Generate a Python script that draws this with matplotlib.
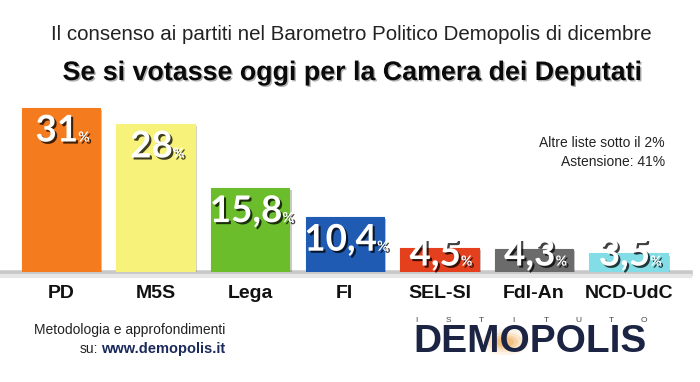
import matplotlib
matplotlib.use("Agg")
import matplotlib.pyplot as plt
import matplotlib.patheffects as pe
from matplotlib.patches import Circle

categories = ["PD", "M5S", "Lega", "FI", "SEL-SI", "FdI-An", "NCD-UdC"]
values = [31, 28, 15.8, 10.4, 4.5, 4.3, 3.5]
colors = ["#f57b1f", "#f7f27a", "#6cbd2b", "#1f5ab3", "#e5401d", "#6b6b6b", "#82dde6"]
title1 = "Il consenso ai partiti nel Barometro Politico Demopolis di dicembre"
title2 = "Se si votasse oggi per la Camera dei Deputati"
note1 = "Altre liste sotto il 2%"
note2 = "Astensione: 41%"

W, H = 700, 382
fig = plt.figure(figsize=(7, 3.82), dpi=100)
fig.patch.set_facecolor("white")

def fx(px):
    return px / W

def fy(py):
    return 1 - py / H

spacing = 94.6
c0 = 61
px_per_unit = 5.3
ax_bottom, ax_top = 272, 90
ax = fig.add_axes([0, fy(ax_bottom), 1, (ax_bottom - ax_top) / H])
ax.set_xlim(-c0 / spacing, (W - c0) / spacing)
ax.set_ylim(0, (ax_bottom - ax_top) / px_per_unit)
ax.axis("off")

# ground line
fig.add_artist(plt.Line2D([0, fx(690)], [fy(273), fy(273)], color="#c9c9c9", lw=4, zorder=0))
fig.add_artist(plt.Line2D([0, fx(690)], [fy(276), fy(276)], color="#e6e6e6", lw=3, zorder=0))

x = list(range(len(categories)))
bars = ax.bar(x, values, width=0.83, color=colors, edgecolor=colors, linewidth=0.8, zorder=2)
for b in bars:
    b.set_path_effects([pe.SimplePatchShadow(offset=(1.5, -1.5), alpha=0.25), pe.Normal()])

shadow = [pe.withSimplePatchShadow(offset=(1.5, -1.5), shadow_rgbFace="black", alpha=0.75)]
for i, v in enumerate(values):
    s = f"{v:g}".replace(".", ",")
    yv = max(v - 4.4, 3.2)
    t = ax.annotate(s, xy=(i, yv), xytext=(-3, 0), textcoords="offset points",
                    ha="center", va="center", fontsize=26.5, color="white",
                    family=["Lato", "DejaVu Sans"], fontweight="bold", zorder=5,
                    path_effects=shadow)
    ax.annotate("%", xy=(1.0, 0.12), xycoords=t, ha="left", va="bottom",
                fontsize=10, color="white", family=["Lato", "DejaVu Sans"],
                fontweight="bold", zorder=5, path_effects=shadow)
    fig.text(fx(c0 + spacing * i), fy(293), categories[i], ha="center", va="center",
             fontsize=14, fontweight="bold", color="#111111",
             family=["Liberation Sans", "DejaVu Sans"])

# titles
fig.text(fx(351), fy(35), title1, ha="center", va="center", fontsize=14.8,
         color="#222222", family=["Liberation Sans", "DejaVu Sans"])
fig.text(fx(351), fy(73), title2, ha="center", va="center", fontsize=19.3,
         fontweight="bold", color="#0a0a0a",
         family=["Liberation Sans", "DejaVu Sans"],
         path_effects=[pe.withSimplePatchShadow(offset=(1, -1), alpha=0.3)])

# notes
fig.text(fx(665), fy(143), note1, ha="right", va="center", fontsize=10,
         color="#222222", family=["Liberation Sans", "DejaVu Sans"])
fig.text(fx(665), fy(162), note2, ha="right", va="center", fontsize=10,
         color="#222222", family=["Liberation Sans", "DejaVu Sans"])

# footer
fig.text(fx(225), fy(330), "Metodologia e approfondimenti", ha="right", va="center",
         fontsize=10, color="#222222", family=["Liberation Sans", "DejaVu Sans"])
url = fig.text(fx(225), fy(349), "www.demopolis.it", ha="right", va="center",
               fontsize=10.5, fontweight="bold", color="#1b2a5c",
               family=["Liberation Sans", "DejaVu Sans"])
plt.annotate("su:", xy=(0, 0.5), xycoords=url, xytext=(-2, 0), textcoords="offset points",
             ha="right", va="center", fontsize=10, color="#222222",
             family=["Liberation Sans", "DejaVu Sans"], annotation_clip=False)

# logo
for r, a in [(24, 0.12), (18, 0.18), (13, 0.25), (9, 0.35)]:
    fig.add_artist(Circle((fx(505), fy(342)), r / W, transform=fig.transFigure,
                          color="#f0a040", alpha=a, lw=0, zorder=0))
fig.text(fx(530), fy(342), "DEMOPOLIS", ha="center", va="center", fontsize=28,
         fontweight="bold", color="#1c2444", family=["Liberation Sans", "DejaVu Sans"])
for k, ch in enumerate("ISTITUTO"):
    fig.text(fx(416 + k * 32.5), fy(321), ch, ha="center", va="center",
             fontsize=6, color="#444444", family=["Liberation Sans", "DejaVu Sans"])

fig.savefig("out.png", dpi=100, facecolor="white")
